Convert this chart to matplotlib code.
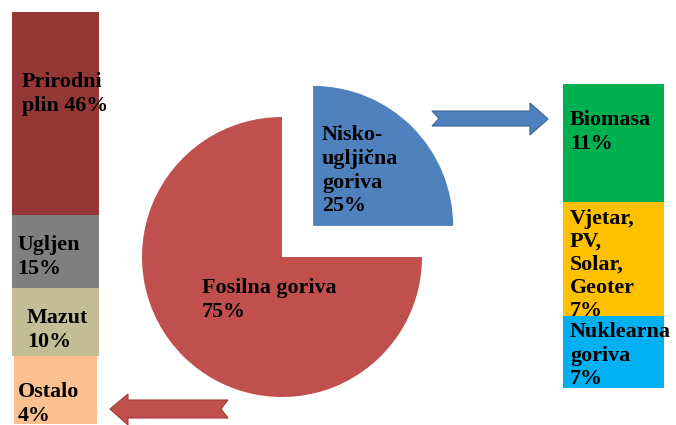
import matplotlib
matplotlib.use("Agg")
import matplotlib.pyplot as plt
from matplotlib.patches import Polygon

# ---- data ----
pie_labels = ["Nisko-\nugljična\ngoriva", "Fosilna goriva"]
pie_values = [25, 75]

fossil_labels = ["Prirodni\nplin", "Ugljen", "Mazut", "Ostalo"]
fossil_values = [46, 15, 10, 4]

lowc_labels = ["Biomasa", "Vjetar,\nPV,\nSolar,\nGeoter", "Nuklearna\ngoriva"]
lowc_values = [11, 7, 7]

# ---- layout (drawn segment heights in the illustration, pixels) ----
fossil_heights = [203, 73, 68, 68]   # top -> bottom
lowc_heights = [118, 114, 72]        # top -> bottom
fossil_colors = ["#953735", "#7F7F7F", "#C4BD97", "#FAC090"]
lowc_colors = ["#00B050", "#FFC000", "#00B0F0"]
pie_colors = ["#4F81BD", "#C0504D"]

W, H = 676, 425
fig = plt.figure(figsize=(W / 100, H / 100), dpi=100)
ax = fig.add_axes([0, 0, 1, 1])

font = dict(family=["Liberation Serif", "DejaVu Serif"], fontweight="bold",
            fontsize=15.8, color="black", linespacing=1.25)

# left stacked bar (fossil fuels), drawn from top to bottom
top = 413
for i, (h, c) in enumerate(zip(fossil_heights, fossil_colors)):
    width = 87 if i < 3 else 83
    ax.bar(55.5, h, bottom=top - h, width=width, color=c, edgecolor="none")
    top -= h

# right stacked bar (low-carbon); later segments drawn over earlier labels
top = 341
for i, (h, c) in enumerate(zip(lowc_heights, lowc_colors)):
    ax.bar(613.5, h, bottom=top - h, width=101, color=c, edgecolor="none",
           zorder=1 + 2 * i)
    top -= h

# pie (explode is in data units here)
ax.pie(pie_values, colors=pie_colors, startangle=0, counterclock=True,
       center=(282, 168), radius=140, explode=[44, 0], frame=True,
       wedgeprops=dict(linewidth=0))

# arrows
blue_arrow = [(432, 314), (530, 314), (530, 322), (548, 306), (530, 290),
              (530, 299), (432, 299), (439, 306.5)]
ax.add_patch(Polygon(blue_arrow, closed=True, facecolor="#4F81BD",
                     edgecolor="#3A6398", linewidth=0.8))
red_arrow = [(228, 25), (128, 25), (128, 31), (110, 16), (128, 0),
             (128, 7), (228, 7), (221, 16)]
ax.add_patch(Polygon(red_arrow, closed=True, facecolor="#C0504D",
                     edgecolor="#9E3B38", linewidth=0.8))

# labels
fossil_text_pos = [(22, 353), (17, 190), (27, 117), (18, 43)]
for (x, y), name, v in zip(fossil_text_pos, fossil_labels, fossil_values):
    sep = " " if "\n" in name else "\n"
    ax.text(x, y, f"{name}{sep}{v}%", ha="left", va="top", zorder=10, **font)

lowc_text_pos = [(570, 315), (570, 216), (570, 103)]
lowc_spacing = [1.25, 1.2, 1.25]
for i, ((x, y), name, v) in enumerate(zip(lowc_text_pos, lowc_labels, lowc_values)):
    f = dict(font, linespacing=lowc_spacing[i])
    ax.text(x, y, f"{name}\n{v}%", ha="left", va="top", zorder=2 + 2 * i, **f)

pie_text_pos = [(322, 300), (202, 147)]
for (x, y), name, v in zip(pie_text_pos, pie_labels, pie_values):
    ax.text(x, y, f"{name}\n{v}%", ha="left", va="top", zorder=10, **font)

ax.set_xlim(0, W)
ax.set_ylim(0, H)
ax.set_aspect("auto")
ax.axis("off")
fig.savefig("out.png", dpi=100, facecolor="white")
